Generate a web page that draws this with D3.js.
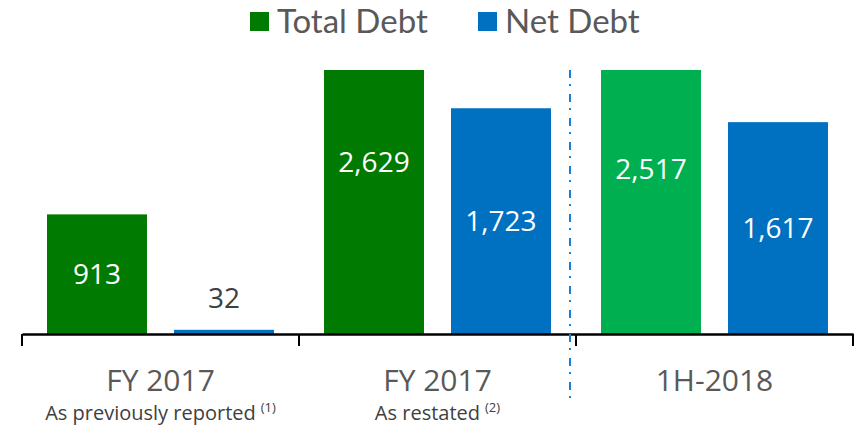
<!DOCTYPE html>
<html>
<head>
<meta charset="utf-8">
<script src="https://cdn.jsdelivr.net/npm/d3@7"></script>
<style>
  body { margin: 0; background: #fff; }
  svg { display: block; }
</style>
</head>
<body>
<div id="chart"></div>
<script>
// data
const categories = ['FY 2017', 'FY 2017', '1H-2018'];
const subtitles = ['As previously reported', 'As restated', ''];
const footnotes = ['(1)', '(2)', ''];
const seriesNames = ['Total Debt', 'Net Debt'];
const totalDebt = [913, 2629, 2517];
const netDebt = [32, 1723, 1617];

const width = 855, height = 427;
const baseY = 334, topY = 70;
const green = '#007A00', lightGreen = '#00B050', blue = '#0070C0';
const textGray = '#595959';

const svg = d3.select('#chart').append('svg')
    .attr('width', width)
    .attr('height', height);

const x = d3.scaleBand()
    .domain(d3.range(categories.length))
    .range([22, 853]);
const xInner = d3.scaleBand()
    .domain(seriesNames)
    .range([0, x.bandwidth()])
    .paddingInner(0.2126)
    .paddingOuter(0.197);
// the tall bars are cut off at the top of the plot
const y = d3.scaleLinear()
    .domain([0, 2015])
    .range([baseY, topY]);

const rows = [];
categories.forEach((c, i) => {
    rows.push({ i, series: 'Total Debt', value: totalDebt[i], color: i === 2 ? lightGreen : green });
    rows.push({ i, series: 'Net Debt', value: netDebt[i], color: blue });
});

svg.append('g').selectAll('rect')
    .data(rows)
    .join('rect')
    .attr('x', d => x(d.i) + xInner(d.series))
    .attr('width', xInner.bandwidth())
    .attr('y', d => Math.max(topY, y(d.value)))
    .attr('height', d => baseY - Math.max(topY, y(d.value)))
    .attr('fill', d => d.color);

// value labels: inside (white) when the bar is big enough, above otherwise
svg.append('g').selectAll('text')
    .data(rows)
    .join('text')
    .attr('x', d => x(d.i) + xInner(d.series) + xInner.bandwidth() / 2)
    .attr('y', d => baseY - y(d.value) > 60 ? y(d.value / 2) : y(d.value) - 32)
    .attr('dy', '0.35em')
    .attr('text-anchor', 'middle')
    .attr('font-family', 'Open Sans, sans-serif')
    .attr('font-size', 28)
    .attr('fill', d => baseY - y(d.value) > 60 ? '#fff' : '#404040')
    .text(d => d3.format(',')(d.value));

// axis line with group separators
const axisG = svg.append('g').attr('transform', `translate(0,${baseY})`);
axisG.call(d3.axisBottom(x).tickValues([]).tickSize(0).tickSizeOuter(0));
axisG.select('.domain').attr('stroke', '#000').attr('stroke-width', 2.5);
const edges = x.domain().map(i => x(i)).concat([x.range()[1]]);
axisG.selectAll('line.sep')
    .data(edges)
    .join('line')
    .attr('class', 'sep')
    .attr('x1', d => d).attr('x2', d => d)
    .attr('y1', 0).attr('y2', 12)
    .attr('stroke', '#000')
    .attr('stroke-width', 2);

// category labels
svg.append('g').selectAll('text')
    .data(categories)
    .join('text')
    .attr('x', (d, i) => x(i) + x.bandwidth() / 2)
    .attr('y', 391)
    .attr('text-anchor', 'middle')
    .attr('font-family', 'Open Sans, sans-serif')
    .attr('font-size', 30)
    .attr('fill', textGray)
    .text(d => d);

const sub = svg.append('g').selectAll('text')
    .data(subtitles)
    .join('text')
    .attr('x', (d, i) => x(i) + x.bandwidth() / 2)
    .attr('y', 420)
    .attr('text-anchor', 'middle')
    .attr('font-family', 'Open Sans, sans-serif')
    .attr('font-size', 20)
    .attr('fill', '#404040');
sub.append('tspan').text(d => d);
sub.append('tspan')
    .attr('dx', 5)
    .attr('dy', -8)
    .attr('font-size', 13)
    .text((d, i) => footnotes[i]);

// dash-dot divider between restated and 1H
svg.append('line')
    .attr('x1', 570).attr('x2', 570)
    .attr('y1', topY).attr('y2', 404)
    .attr('stroke', '#1B7FD4')
    .attr('stroke-width', 2)
    .attr('stroke-dasharray', '8,6,2,8');

// legend
const legendColors = [green, blue];
const legendX = [250, 478];
const legend = svg.append('g').selectAll('g')
    .data(seriesNames)
    .join('g')
    .attr('transform', (d, i) => `translate(${legendX[i]},12)`);
legend.append('rect')
    .attr('width', 19).attr('height', 19)
    .attr('fill', (d, i) => legendColors[i]);
legend.append('text')
    .attr('x', 27)
    .attr('y', 20.5)
    .attr('font-family', 'Lato, sans-serif')
    .attr('font-size', 33)
    .attr('fill', textGray)
    .text(d => d);
</script>
</body>
</html>
